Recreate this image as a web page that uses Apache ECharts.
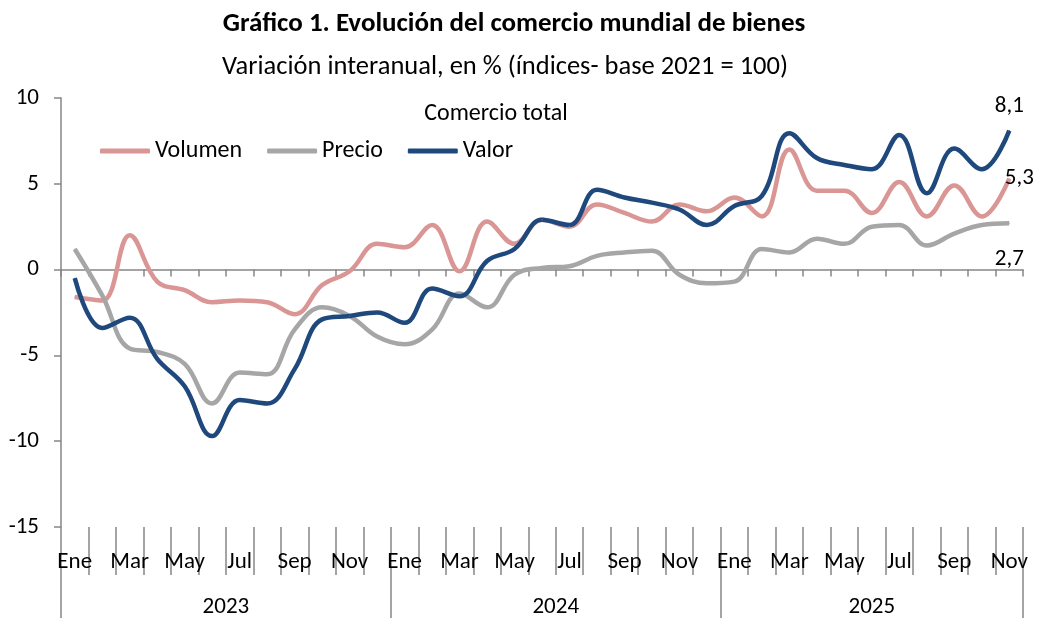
<!DOCTYPE html>
<html>
<head>
<meta charset="utf-8">
<title>Evolución del comercio mundial de bienes</title>
<script src="https://cdn.jsdelivr.net/npm/echarts@6/dist/echarts.min.js"></script>
<style>
  html, body { margin: 0; padding: 0; background: #fff; }
  #main { width: 1038px; height: 619px; }
</style>
</head>
<body>
<div id="main"></div>
<script>
// datos del gráfico (variación interanual, %)
const years = ['2023', '2024', '2025'];
const monthNames = ['Ene', 'Feb', 'Mar', 'Abr', 'May', 'Jun', 'Jul', 'Ago', 'Sep', 'Oct', 'Nov', 'Dic'];
const volumen = [-1.6, -1.8, 2.0, -0.7, -1.2, -1.9, -1.8, -1.9, -2.6, -0.9, -0.1, 1.5,
                 1.3, 2.6, -0.1, 2.8, 1.5, 2.9, 2.5, 3.8, 3.3, 2.8, 3.8, 3.4,
                 4.2, 3.1, 7.0, 4.6, 4.6, 3.3, 5.1, 3.1, 4.9, 3.1, 5.3];
const precio = [1.2, -1.5, -4.6, -4.8, -5.5, -7.8, -6.0, -6.1, -3.5, -2.2, -2.7, -3.9,
                -4.35, -3.5, -1.4, -2.2, -0.3, 0.1, 0.2, 0.8, 1.0, 1.1, -0.3, -0.8,
                -0.7, 1.2, 1.0, 1.8, 1.5, 2.5, 2.6, 1.4, 2.1, 2.6, 2.7];
const valor = [-0.5, -3.4, -2.8, -5.2, -6.8, -9.7, -7.6, -7.8, -5.8, -2.9, -2.7, -2.5,
               -3.1, -1.1, -1.55, 0.5, 1.2, 2.9, 2.6, 4.65, 4.2, 3.9, 3.5, 2.6,
               3.7, 4.3, 7.95, 6.5, 6.1, 5.85, 7.85, 4.45, 7.05, 5.85, 8.1];

// categorias: un punto por mes
const categories = [];
years.forEach(y => monthNames.forEach(m => categories.push(m + ' ' + y)));
categories.length = volumen.length;

const FONT = 'Carlito, "Liberation Sans Narrow", "Liberation Sans", sans-serif';
const AXIS_COLOR = '#868686';

function fmt(v) {
  return v.toFixed(1).replace('.', ',');
}

function withEndLabel(arr, label) {
  return arr.map((v, i) => i === arr.length - 1 ? { value: v, label: Object.assign({ show: true, formatter: p => fmt(p.value) }, label) } : v);
}

// indices donde va la etiqueta de cada año (centro del año)
function yearLabelIndex(k) {
  const start = k * 12;
  const end = Math.min(start + 12, categories.length);
  return Math.floor((start + end) / 2);
}
const yearIdx = years.map((y, k) => yearLabelIndex(k));

const chart = echarts.init(document.getElementById('main'));
chart.setOption({
  animation: false,
  textStyle: { fontFamily: FONT },
  title: [
    {
      text: 'Gráfico 1. Evolución del comercio mundial de bienes',
      left: 509, top: 6, textAlign: 'center',
      textStyle: { fontFamily: FONT, fontSize: 27, fontWeight: 'bold', color: '#000' }
    },
    {
      text: 'Variación interanual, en % (índices- base 2021 = 100)',
      left: 500, top: 49, textAlign: 'center',
      textStyle: { fontFamily: FONT, fontSize: 26.5, fontWeight: 'normal', color: '#000' }
    },
    {
      text: 'Comercio total',
      left: 491, top: 97, textAlign: 'center',
      textStyle: { fontFamily: FONT, fontSize: 24, fontWeight: 'normal', color: '#000' }
    }
  ],
  legend: {
    left: 100, top: 139, padding: 0,
    itemWidth: 50, itemHeight: 5, itemGap: 25,
    icon: 'roundRect',
    textStyle: { fontFamily: FONT, fontSize: 24, color: '#000' },
    data: ['Volumen', 'Precio', 'Valor']
  },
  grid: { left: 61, right: 15, top: 98, bottom: 91, containLabel: false },
  xAxis: [
    {
      type: 'category', data: categories, position: 'bottom', boundaryGap: true,
      axisLine: { onZero: true, lineStyle: { color: AXIS_COLOR, width: 1.5 } },
      axisTick: { show: true, interval: 0, length: 7, lineStyle: { color: AXIS_COLOR, width: 1.5 } },
      axisLabel: { show: false }
    },
    {
      type: 'category', data: categories, position: 'bottom', boundaryGap: true,
      axisLine: { show: false, onZero: false },
      axisTick: { show: true, interval: 0, length: 48, lineStyle: { color: AXIS_COLOR, width: 1.5 } },
      axisLabel: {
        interval: 1, margin: 24, color: '#000', fontFamily: FONT, fontSize: 23,
        formatter: v => v.split(' ')[0]
      }
    },
    {
      type: 'category', data: categories, position: 'bottom', boundaryGap: true,
      axisLine: { show: false, onZero: false },
      axisTick: {
        show: true, length: 91, lineStyle: { color: AXIS_COLOR, width: 1.5 },
        interval: i => i % 12 === 0
      },
      axisLabel: {
        margin: 69, color: '#000', fontFamily: FONT, fontSize: 23,
        interval: i => yearIdx.indexOf(i) >= 0,
        formatter: (v, i) => {
          const k = yearIdx.indexOf(i);
          // años completos: etiqueta entre dos meses centrales
          const full = (k + 1) * 12 <= categories.length;
          return full ? '{full|' + years[k] + '}' : '{part|' + years[k] + '}';
        },
        rich: {
          full: { fontFamily: FONT, fontSize: 23, color: '#000', padding: [0, 27.5, 0, 0] },
          part: { fontFamily: FONT, fontSize: 23, color: '#000' }
        }
      }
    }
  ],
  yAxis: {
    type: 'value', min: -15, max: 10, interval: 5,
    axisLine: { show: true, lineStyle: { color: AXIS_COLOR, width: 1.5 } },
    axisTick: { show: true, length: 7, lineStyle: { color: AXIS_COLOR, width: 1.5 } },
    splitLine: { show: false },
    axisLabel: { margin: 22, color: '#000', fontFamily: FONT, fontSize: 23 }
  },
  series: [
    {
      name: 'Volumen', type: 'line', smooth: 0.4, xAxisIndex: 0,
      symbol: 'circle', symbolSize: 1, showSymbol: true,
      color: '#D99694', lineStyle: { width: 4.5, color: '#D99694' },
      data: withEndLabel(volumen, { position: 'right', distance: -5, color: '#000', fontSize: 23, fontFamily: FONT })
    },
    {
      name: 'Precio', type: 'line', smooth: 0.4, xAxisIndex: 0,
      symbol: 'circle', symbolSize: 1, showSymbol: true,
      color: '#A6A6A6', lineStyle: { width: 4.5, color: '#A6A6A6' },
      data: withEndLabel(precio, { position: 'bottom', distance: 24, color: '#000', fontSize: 23, fontFamily: FONT })
    },
    {
      name: 'Valor', type: 'line', smooth: 0.4, xAxisIndex: 0,
      symbol: 'circle', symbolSize: 1, showSymbol: true,
      color: '#1F497D', lineStyle: { width: 4.5, color: '#1F497D' },
      data: withEndLabel(valor, { position: 'top', distance: 12, color: '#000', fontSize: 23, fontFamily: FONT })
    }
  ]
});
</script>
</body>
</html>
